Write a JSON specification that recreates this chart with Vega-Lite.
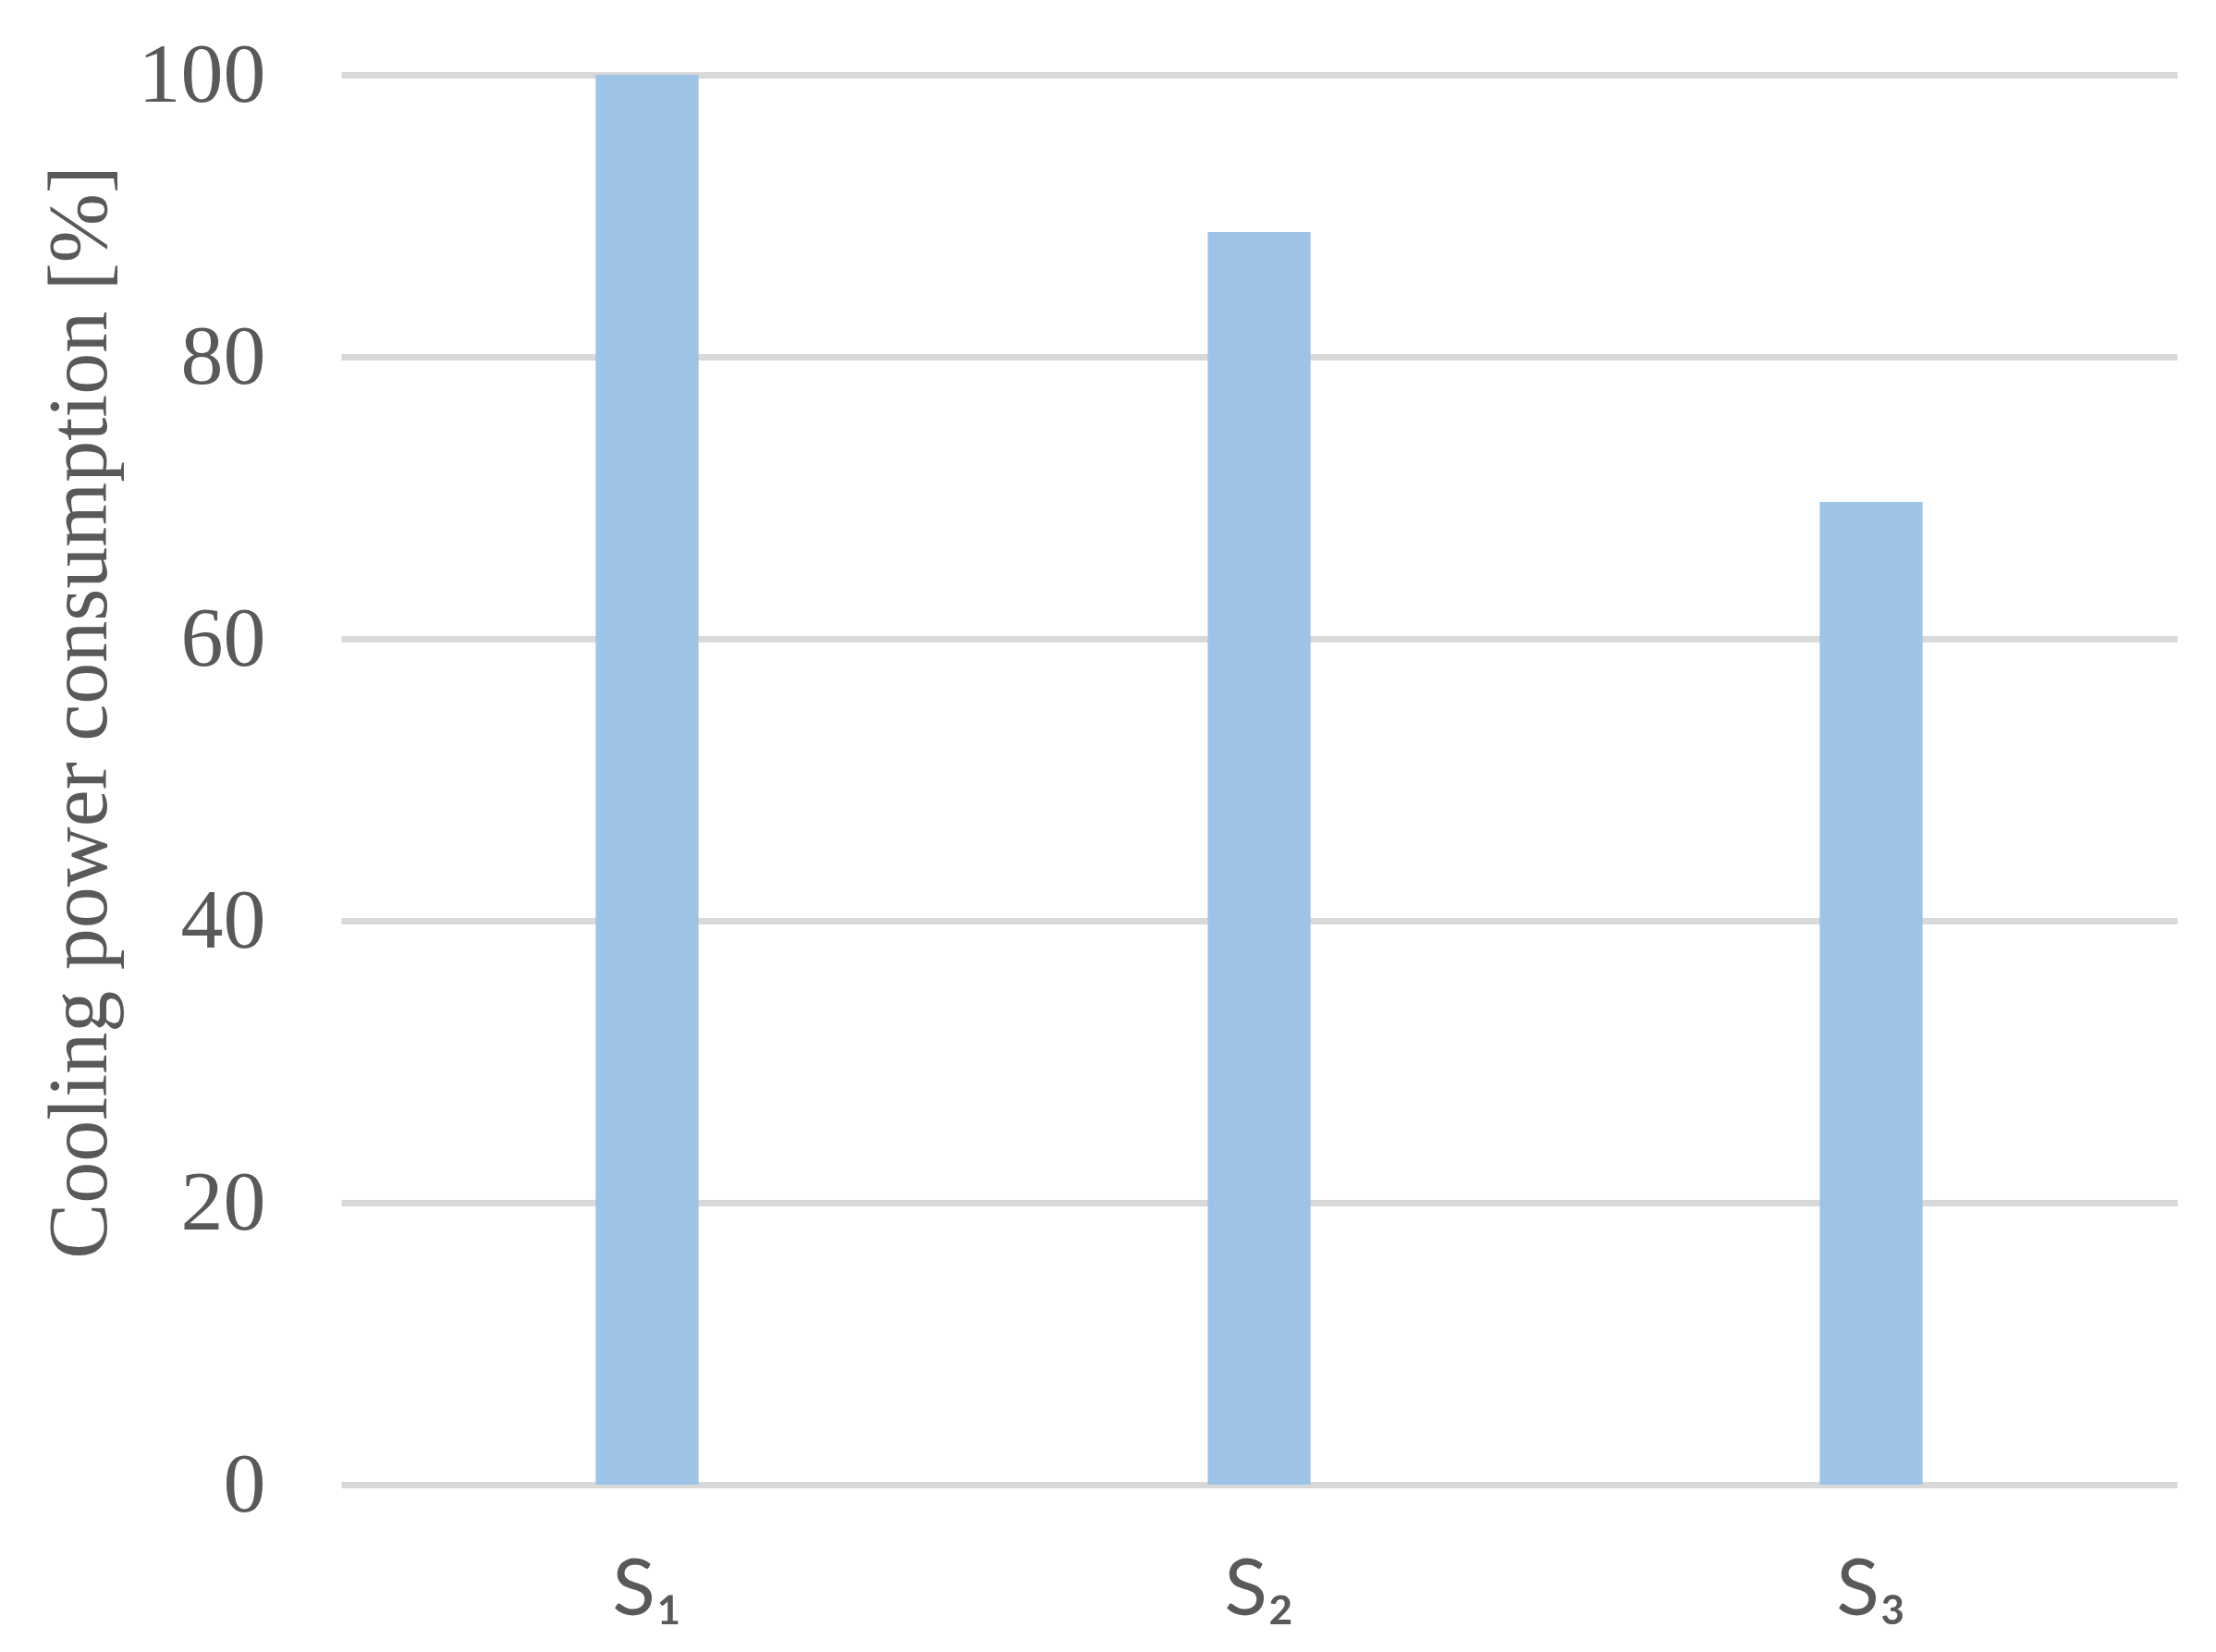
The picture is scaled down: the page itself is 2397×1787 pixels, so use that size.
{
  "$schema": "https://vega.github.io/schema/vega-lite/v6.json",
  "autosize": "none",
  "width": 1986,
  "height": 1525,
  "padding": {"left": 369, "top": 81, "right": 42, "bottom": 181},
  "background": "white",
  "data": {"values": [
    {"scenario": "S₁", "value": 100},
    {"scenario": "S₂", "value": 88.85},
    {"scenario": "S₃", "value": 69.7}
  ]},
  "mark": {"type": "bar", "color": "#9DC3E6"},
  "encoding": {
    "x": {
      "field": "scenario", "type": "nominal", "sort": null,
      "scale": {"paddingInner": 0.832, "paddingOuter": 0.416},
      "axis": {
        "title": null, "labelAngle": 0, "domain": false, "ticks": false, "grid": false,
        "labelFont": "Lato", "labelFontSize": 86, "labelColor": "#595959", "labelPadding": 72
      }
    },
    "y": {
      "field": "value", "type": "quantitative",
      "scale": {"domain": [0, 100]},
      "axis": {
        "values": [0, 20, 40, 60, 80, 100],
        "title": "Cooling power consumption [%]",
        "titleFont": "Liberation Serif", "titleFontSize": 90, "titleFontWeight": "normal", "titleColor": "#595959",
        "titleX": -236, "titleY": 689,
        "labelFont": "Liberation Serif", "labelFontSize": 92, "labelColor": "#595959", "labelPadding": 82,
        "domain": false, "ticks": false,
        "grid": true, "gridColor": "#D9D9D9", "gridWidth": 7
      }
    }
  },
  "config": {"view": {"stroke": null}}
}
